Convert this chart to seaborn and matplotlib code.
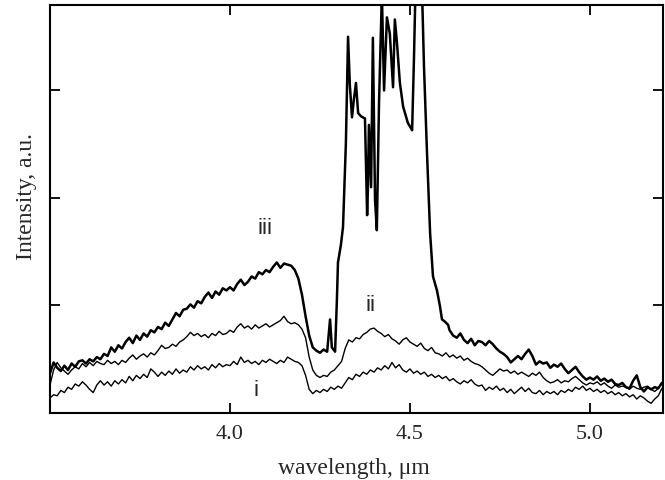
import numpy as np
import pandas as pd
import matplotlib
matplotlib.use("Agg")
import matplotlib.pyplot as plt
import seaborn as sns

# wavelength grid (um) shared by the three spectra
wl = np.round(np.arange(3.50, 5.205, 0.01), 2)

# spectrum i (lowest)
spec_i = [0.14, 0.17, 0.16, 0.21, 0.19, 0.24, 0.22, 0.27, 0.25, 0.29,
          0.26, 0.22, 0.19, 0.26, 0.30, 0.26, 0.29, 0.25, 0.30, 0.27,
          0.31, 0.28, 0.34, 0.30, 0.35, 0.32, 0.36, 0.33, 0.41, 0.38,
          0.34, 0.38, 0.35, 0.39, 0.36, 0.41, 0.37, 0.40, 0.38, 0.43,
          0.40, 0.44, 0.41, 0.43, 0.40, 0.45, 0.42, 0.46, 0.43, 0.45,
          0.44, 0.48, 0.45, 0.52, 0.47, 0.49, 0.46, 0.48, 0.45, 0.49,
          0.47, 0.50, 0.48, 0.46, 0.49, 0.47, 0.52, 0.50, 0.48, 0.47,
          0.44, 0.35, 0.22, 0.18, 0.21, 0.19, 0.22, 0.20, 0.24, 0.22,
          0.25, 0.23, 0.28, 0.33, 0.31, 0.36, 0.34, 0.38, 0.36, 0.40,
          0.38, 0.42, 0.40, 0.44, 0.41, 0.47, 0.42, 0.45, 0.40, 0.38,
          0.41, 0.37, 0.39, 0.36, 0.38, 0.34, 0.36, 0.33, 0.35, 0.32,
          0.34, 0.30, 0.32, 0.29, 0.27, 0.30, 0.28, 0.31, 0.27, 0.25,
          0.26, 0.21, 0.24, 0.22, 0.25, 0.21, 0.23, 0.19, 0.22, 0.18,
          0.21, 0.24, 0.20, 0.23, 0.19, 0.18, 0.21, 0.17, 0.20, 0.18,
          0.20, 0.17, 0.21, 0.19, 0.22, 0.20, 0.24, 0.22, 0.25, 0.21,
          0.23, 0.20, 0.22, 0.19, 0.21, 0.18, 0.20, 0.17, 0.19, 0.16,
          0.18, 0.15, 0.17, 0.13, 0.16, 0.14, 0.11, 0.09, 0.13, 0.16, 0.23]

# spectrum ii (middle)
spec_ii = [0.26, 0.40, 0.47, 0.42, 0.39, 0.36, 0.40, 0.43, 0.41, 0.46,
           0.43, 0.47, 0.44, 0.48, 0.46, 0.45, 0.49, 0.46, 0.48, 0.45,
           0.49, 0.47, 0.51, 0.54, 0.50, 0.53, 0.55, 0.52, 0.56, 0.54,
           0.58, 0.63, 0.60, 0.61, 0.64, 0.62, 0.66, 0.68, 0.71, 0.75,
           0.72, 0.74, 0.71, 0.73, 0.70, 0.74, 0.72, 0.76, 0.73, 0.74,
           0.77, 0.75, 0.80, 0.83, 0.79, 0.81, 0.78, 0.82, 0.79, 0.81,
           0.83, 0.80, 0.82, 0.84, 0.86, 0.90, 0.85, 0.83, 0.84, 0.82,
           0.78, 0.70, 0.52, 0.40, 0.35, 0.33, 0.35, 0.34, 0.38, 0.40,
           0.44, 0.48, 0.60, 0.68, 0.66, 0.70, 0.69, 0.73, 0.75, 0.78,
           0.79, 0.76, 0.74, 0.71, 0.73, 0.69, 0.67, 0.64, 0.68, 0.70,
           0.66, 0.64, 0.62, 0.65, 0.60, 0.58, 0.61, 0.56, 0.55, 0.53,
           0.56, 0.52, 0.54, 0.51, 0.53, 0.49, 0.51, 0.48, 0.46, 0.45,
           0.43, 0.40, 0.37, 0.35, 0.38, 0.41, 0.39, 0.40, 0.37, 0.39,
           0.36, 0.38, 0.36, 0.34, 0.37, 0.35, 0.38, 0.33, 0.30, 0.28,
           0.29, 0.31, 0.28, 0.30, 0.29, 0.32, 0.34, 0.31, 0.28, 0.26,
           0.28, 0.27, 0.29, 0.26, 0.28, 0.25, 0.23, 0.26, 0.24, 0.25,
           0.24, 0.22, 0.25, 0.23, 0.22, 0.24, 0.25, 0.22, 0.20, 0.23, 0.28]

# spectrum iii (top), left part 3.50-4.27 on the grid
iii_left = [0.37, 0.47, 0.42, 0.39, 0.44, 0.40, 0.46, 0.43, 0.48, 0.49,
            0.46, 0.50, 0.48, 0.52, 0.50, 0.55, 0.53, 0.61, 0.57, 0.63,
            0.60, 0.66, 0.70, 0.65, 0.72, 0.68, 0.74, 0.71, 0.77, 0.75,
            0.80, 0.78, 0.84, 0.81, 0.87, 0.93, 0.90, 0.96, 0.97, 1.01,
            0.98, 1.04, 1.02, 1.08, 1.12, 1.07, 1.13, 1.10, 1.16, 1.14,
            1.17, 1.14, 1.20, 1.24, 1.19, 1.22, 1.27, 1.25, 1.31, 1.29,
            1.33, 1.31, 1.36, 1.40, 1.35, 1.39, 1.38, 1.37, 1.33, 1.25,
            1.10, 0.90, 0.72, 0.61, 0.58, 0.56, 0.59, 0.57]

# spectrum iii, emission band 4.28-4.61 (finer sampling)
iii_peak_x = [4.278, 4.283, 4.292, 4.297, 4.300, 4.308, 4.314, 4.322, 4.328, 4.333,
              4.339, 4.344, 4.350, 4.356, 4.364, 4.369, 4.375, 4.381, 4.383, 4.386,
              4.392, 4.397, 4.403, 4.408, 4.414, 4.422, 4.428, 4.436, 4.444, 4.453,
              4.458, 4.464, 4.472, 4.481, 4.494, 4.506, 4.511, 4.517, 4.525, 4.533,
              4.539, 4.547, 4.556, 4.564, 4.575, 4.583, 4.589, 4.597, 4.606]
iii_peak_y = [0.87, 0.61, 0.57, 1.05, 1.40, 1.56, 1.73, 2.51, 3.50, 3.05,
              2.75, 2.91, 3.07, 2.79, 2.76, 2.75, 2.74, 1.84, 2.07, 2.68,
              2.10, 3.49, 1.98, 1.70, 2.88, 3.90, 3.00, 3.68, 3.53, 3.03,
              3.66, 3.44, 3.07, 2.85, 2.70, 2.63, 3.28, 4.20, 4.40, 4.00,
              3.22, 2.45, 1.67, 1.27, 1.14, 1.00, 0.87, 0.85, 0.82]

# spectrum iii, right part 4.61-5.20 on the grid
iii_right = [0.77, 0.72, 0.70, 0.74, 0.68, 0.65, 0.69, 0.63, 0.67,
             0.66, 0.63, 0.67, 0.64, 0.60, 0.57, 0.55, 0.52, 0.47, 0.50,
             0.53, 0.50, 0.55, 0.59, 0.53, 0.45, 0.48, 0.46, 0.47, 0.42,
             0.45, 0.43, 0.46, 0.41, 0.37, 0.40, 0.43, 0.38, 0.34, 0.31,
             0.33, 0.31, 0.34, 0.30, 0.32, 0.29, 0.31, 0.27, 0.26, 0.28,
             0.24, 0.23, 0.30, 0.35, 0.24, 0.20, 0.24, 0.22, 0.24, 0.23, 0.28]

curve_labels = ["i", "ii", "iii"]
label_x = [4.072, 4.389, 4.097]
label_y = [0.21, 1.00, 1.72]

x_iii = np.concatenate([wl[wl <= 4.275], iii_peak_x, wl[wl >= 4.605]])
y_iii = np.concatenate([iii_left, iii_peak_y, iii_right])

df_i = pd.DataFrame({"wavelength": wl, "intensity": spec_i})
df_ii = pd.DataFrame({"wavelength": wl, "intensity": spec_ii})
df_iii = pd.DataFrame({"wavelength": x_iii, "intensity": y_iii})

sns.set_theme(style="ticks")
plt.rcParams["font.family"] = ["Liberation Serif", "DejaVu Serif"]

fig, ax = plt.subplots(figsize=(6.65, 4.8), dpi=100)
fig.subplots_adjust(left=0.0752, right=0.997, bottom=0.1396, top=0.9896)

sns.lineplot(data=df_i, x="wavelength", y="intensity", color="black",
             linewidth=1.0, estimator=None, sort=False, ax=ax)
sns.lineplot(data=df_ii, x="wavelength", y="intensity", color="black",
             linewidth=1.0, estimator=None, sort=False, ax=ax)
sns.lineplot(data=df_iii, x="wavelength", y="intensity", color="black",
             linewidth=1.8, estimator=None, sort=False, ax=ax)

for lab, lx, ly in zip(curve_labels, label_x, label_y):
    ax.text(lx, ly, lab, ha="center", va="center", fontsize=16,
            family=["Liberation Sans", "DejaVu Sans"])

ax.set_xlim(3.5, 5.203)
ax.set_ylim(0, 3.795)
ax.set_xticks([4.0, 4.5, 5.0])
ax.set_xticklabels(["4.0", "4.5", "5.0"])
ax.set_yticks([1, 2, 3])
ax.set_yticklabels([])
ax.tick_params(direction="in", length=7, width=1.3, top=True, right=True,
               labelsize=16, color="black", pad=9)
for sp in ax.spines.values():
    sp.set_linewidth(1.5)
    sp.set_color("black")

ax.set_xlabel("wavelength, \u03bcm", fontsize=17)
ax.set_ylabel("Intensity, a.u.", fontsize=17)
ax.xaxis.set_label_coords(0.495, -0.11)
ax.yaxis.set_label_coords(-0.022, 0.53)

plt.savefig("out.png", dpi=100)
